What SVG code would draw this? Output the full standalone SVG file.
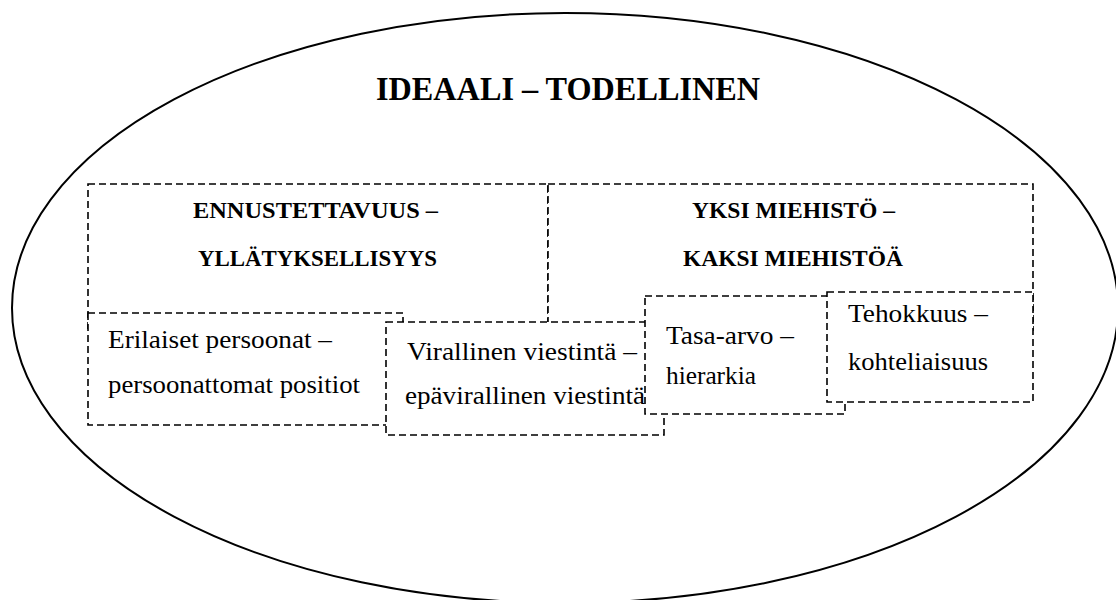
<svg xmlns="http://www.w3.org/2000/svg" width="1116" height="600" viewBox="0 0 1116 600">
<style>
.box{fill:#fff;stroke:#000;stroke-width:1.6;stroke-dasharray:7 4}
.h{font-family:"Liberation Serif","Times New Roman",serif;font-weight:bold;fill:#000}
.b{font-family:"Liberation Serif","Times New Roman",serif;fill:#000;font-size:26px}
</style>
<rect width="1116" height="600" fill="#fff"/>
<g id="ellipse">
<ellipse cx="565" cy="308" rx="553" ry="295" fill="none" stroke="#000" stroke-width="2"/>
<text class="h" x="376" y="100" font-size="34" textLength="384" lengthAdjust="spacingAndGlyphs">IDEAALI – TODELLINEN</text>
</g>
<g id="ennustettavuus">
<rect class="box" x="88" y="184" width="460" height="146"/>
<text class="h" x="193" y="218" font-size="24" textLength="245" lengthAdjust="spacingAndGlyphs">ENNUSTETTAVUUS –</text>
<text class="h" x="198" y="266" font-size="24" textLength="239" lengthAdjust="spacingAndGlyphs">YLLÄTYKSELLISYYS</text>
</g>
<g id="miehisto">
<rect class="box" x="548" y="184" width="485" height="146"/>
<text class="h" x="692" y="218" font-size="24" textLength="203" lengthAdjust="spacingAndGlyphs">YKSI MIEHISTÖ –</text>
<text class="h" x="683" y="266" font-size="24" textLength="220" lengthAdjust="spacingAndGlyphs">KAKSI MIEHISTÖÄ</text>
</g>
<g id="persoonat">
<rect class="box" x="88" y="313" width="315" height="112"/>
<text class="b" x="108" y="348" textLength="224" lengthAdjust="spacingAndGlyphs">Erilaiset persoonat –</text>
<text class="b" x="108" y="393" textLength="252" lengthAdjust="spacingAndGlyphs">persoonattomat positiot</text>
</g>
<g id="viestinta">
<rect class="box" x="386" y="322" width="278" height="113"/>
<text class="b" x="407" y="360" textLength="230" lengthAdjust="spacingAndGlyphs">Virallinen viestintä –</text>
<text class="b" x="405" y="404" textLength="240" lengthAdjust="spacingAndGlyphs">epävirallinen viestintä</text>
</g>
<g id="tasa-arvo">
<rect class="box" x="645" y="296" width="200" height="118"/>
<text class="b" x="666" y="344" textLength="128" lengthAdjust="spacingAndGlyphs">Tasa-arvo –</text>
<text class="b" x="666" y="384" textLength="90" lengthAdjust="spacingAndGlyphs">hierarkia</text>
</g>
<g id="tehokkuus">
<rect class="box" x="827" y="292" width="206" height="110"/>
<text class="b" x="848" y="322" textLength="140" lengthAdjust="spacingAndGlyphs">Tehokkuus –</text>
<text class="b" x="848" y="370" textLength="140" lengthAdjust="spacingAndGlyphs">kohteliaisuus</text>
</g>
<g id="connectors"/>
</svg>
